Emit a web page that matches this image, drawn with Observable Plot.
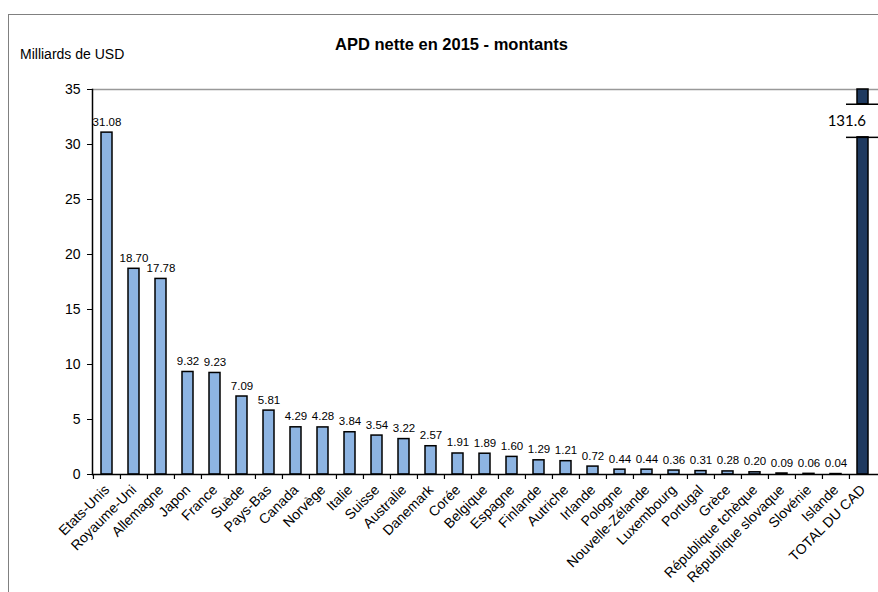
<!DOCTYPE html>
<html>
<head>
<meta charset="utf-8">
<script src="https://cdn.jsdelivr.net/npm/d3@7"></script>
<script src="https://cdn.jsdelivr.net/npm/@observablehq/plot@0.6"></script>
<style>
  html, body { margin: 0; padding: 0; background: #fff; }
  #wrap { position: relative; width: 878px; height: 592px; overflow: hidden; font-family: "Liberation Sans", Arial, sans-serif; }
  #border { position: absolute; left: 8px; top: 14px; width: 1000px; height: 1000px; border: 1.5px solid #808080; box-sizing: border-box; }
  #chart { position: absolute; left: 0; top: 0; }
  #title { position: absolute; left: 0; width: 903px; top: 35px; text-align: center; font-weight: bold; font-size: 16.5px; color: #000; }
  #ylab { position: absolute; left: 20px; top: 46px; font-size: 14px; color: #000; }
</style>
</head>
<body>
<div id="wrap">
  <div id="border"></div>
  <div id="chart"></div>
  <div id="title">APD nette en 2015 - montants</div>
  <div id="ylab">Milliards de USD</div>
</div>
<script>
const categories = ["Etats-Unis","Royaume-Uni","Allemagne","Japon","France","Suède","Pays-Bas","Canada","Norvège","Italie","Suisse","Australie","Danemark","Corée","Belgique","Espagne","Finlande","Autriche","Irlande","Pologne","Nouvelle-Zélande","Luxembourg","Portugal","Grèce","République tchèque","République slovaque","Slovénie","Islande","TOTAL DU CAD"];
const values = [31.08,18.70,17.78,9.32,9.23,7.09,5.81,4.29,4.28,3.84,3.54,3.22,2.57,1.91,1.89,1.60,1.29,1.21,0.72,0.44,0.44,0.36,0.31,0.28,0.20,0.09,0.06,0.04,131.6];
const yTicks = [0,5,10,15,20,25,30,35];
const totalLabel = "131.6";
const yMax = 35;
const breakLow = 30.65, breakHigh = 33.66;

const data = categories.map((c, i) => ({c, v: values[i]}));
const countries = data.filter(d => d.c !== "TOTAL DU CAD");
const total = data.find(d => d.c === "TOTAL DU CAD");
const totalSegs = [
  {c: total.c, y1: 0, y2: Math.min(breakLow, total.v)},
  {c: total.c, y1: breakHigh, y2: Math.min(yMax, total.v)}
];
const breaks = [{c: total.c, y: breakLow}, {c: total.c, y: breakHigh}];

const W = 878, H = 592, mL = 92, mR = 0, mT = 89, mB = 118;
const step = (W - mL - mR) / categories.length;
const plotH = H - mT - mB;

const chart = Plot.plot({
  width: W, height: H,
  marginLeft: mL, marginRight: mR, marginTop: mT, marginBottom: mB,
  style: {fontFamily: "Liberation Sans, Arial, sans-serif", background: "transparent", color: "#000"},
  x: {domain: categories, paddingInner: 0.58, paddingOuter: 0.29, label: null},
  y: {domain: [0, yMax], label: null},
  marks: [
    Plot.ruleY([yMax], {stroke: "#999", strokeWidth: 1.5}),
    Plot.barY(countries, {x: "c", y: "v", fill: "#8DB4E2", stroke: "#000", strokeWidth: 1.5}),
    Plot.barY(totalSegs, {x: "c", y1: "y1", y2: "y2", fill: "#1F3A60", stroke: "#000", strokeWidth: 1.5}),
    Plot.tickY(breaks, {x: "c", y: "y", stroke: "#000", strokeWidth: 1.5, insetLeft: -11, insetRight: -10}),
    Plot.text(countries, {x: "c", y: "v", text: d => d.v.toFixed(2), lineAnchor: "bottom", dy: -7, fontSize: 11.5, fill: "#000"}),
    Plot.text([total], {x: "c", y: () => (breakLow + breakHigh) / 2, text: () => totalLabel, textAnchor: "end", dx: 3, fontSize: 15, fontFamily: "Lato, sans-serif", fill: "#000"}),
    Plot.axisY({ticks: yTicks, tickSize: 5, tickPadding: 7, fontSize: 14, label: null, stroke: "#000"}),
    Plot.tickX(categories, {x: d => d, dx: -step / 2, insetTop: plotH, insetBottom: -5, stroke: "#000", strokeWidth: 1.2}),
    Plot.axisX({tickSize: 0, tickRotate: -45, tickPadding: 13, fontSize: 14, label: null}),
    Plot.ruleY([0], {stroke: "#000", strokeWidth: 1.5}),
    Plot.frame({anchor: "left", stroke: "#000", strokeWidth: 1.5})
  ]
});
document.getElementById("chart").appendChild(chart);
</script>
</body>
</html>
